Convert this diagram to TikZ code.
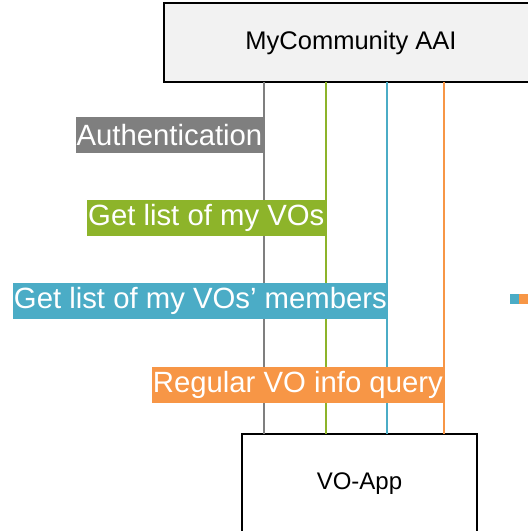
\documentclass[tikz,border=0pt]{standalone}
\usepackage{fontspec}
\setmainfont{Liberation Sans}
\definecolor{gline}{HTML}{7F7F7F}
\definecolor{grn}{HTML}{8DB42A}
\definecolor{blu}{HTML}{4BACC6}
\definecolor{org}{HTML}{F79646}
\definecolor{boxfill}{HTML}{F2F2F2}
\begin{document}
\begin{tikzpicture}[x=1pt,y=-1pt,
  flow/.style={line width=1.5pt},
  lbl/.style={anchor=east, text=white, inner sep=1pt, minimum height=36pt, font=\fontsize{29.3}{31}\selectfont},
  sysbox/.style={draw=black, line width=1.5pt}]
\useasboundingbox (0,0) rectangle (528,531);
\clip (0,0) rectangle (528,531);
\node[sysbox, fill=boxfill, minimum width=374pt, minimum height=79pt, font=\fontsize{25.5}{27}\selectfont] (aai) at (351,42.5) {MyCommunity AAI};
\node[sysbox, fill=white, minimum width=235pt, minimum height=99pt, font=\fontsize{24}{26}\selectfont] (app) at (359.5,483.5) {VO-App};
\coordinate (a1) at (264,82); \coordinate (b1) at (264,434);
\coordinate (a2) at (326,82); \coordinate (b2) at (326,434);
\coordinate (a3) at (387,82); \coordinate (b3) at (387,434);
\coordinate (a4) at (444,82); \coordinate (b4) at (444,434);
\draw[flow, gline] (a1) -- (b1);
\draw[flow, grn] (a2) -- (b2);
\draw[flow, blu] (a3) -- (b3);
\draw[flow, org] (a4) -- (b4);
\node[lbl, fill=gline] (l1) at (263.5,135) {Authentication};
\node[lbl, fill=grn] (l2) at (325.5,218) {Get list of my VOs};
\node[lbl, fill=blu] (l3) at (388,301) {Get list of my VOs’ members};
\node[lbl, fill=org] (l4) at (444,384.5) {Regular VO info query};
\fill[blu] (509.5,294) rectangle (519,303.5);
\fill[org] (519,294) rectangle (528,303.5);
\end{tikzpicture}
\end{document}
